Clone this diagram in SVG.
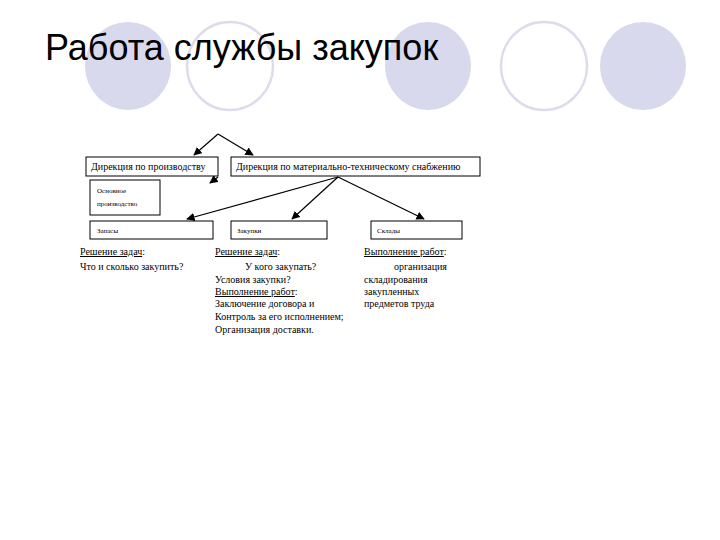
<svg xmlns="http://www.w3.org/2000/svg" width="720" height="540" viewBox="0 0 720 540">
<defs>
<style>
.f{fill:#d9d9ee}
.o{fill:none;stroke:#dcdcea;stroke-width:2.5}
.b{fill:#fff;stroke:#000;stroke-width:1}
.t{font-family:"Liberation Serif",serif;font-size:10px;fill:#000}
.s{font-family:"Liberation Serif",serif;font-size:7px;fill:#000}
.l{stroke:#000;stroke-width:1.2;fill:none;marker-end:url(#a)}
</style>
<marker id="a" viewBox="0 0 10 10" refX="9" refY="5" markerWidth="7" markerHeight="7" orient="auto"><path d="M0,0L10,5L0,10z" fill="#000"/></marker>
</defs>
<rect width="720" height="540" fill="#fff"/>
<ellipse class="f" cx="128" cy="66" rx="43" ry="44"/>
<ellipse class="o" cx="230" cy="66" rx="43" ry="44"/>
<ellipse class="f" cx="428" cy="66" rx="43" ry="44"/>
<ellipse class="o" cx="544" cy="66" rx="43" ry="44"/>
<ellipse class="f" cx="643" cy="66" rx="43" ry="44"/>
<text x="45" y="60" font-family="Liberation Sans,Arial,sans-serif" font-size="36">Работа службы закупок</text>
<g id="connectors">
<line class="l" x1="218" y1="134" x2="194" y2="155"/>
<line class="l" x1="218" y1="134" x2="253" y2="155"/>
<line class="l" x1="218" y1="177" x2="210" y2="183"/>
<line class="l" x1="338" y1="177" x2="187" y2="219"/>
<line class="l" x1="338" y1="177" x2="292" y2="219"/>
<line class="l" x1="338" y1="177" x2="424" y2="219"/>
</g>
<g id="n1"><rect class="b" x="86" y="157" width="132" height="19"/><text class="t" x="91" y="170">Дирекция по производству</text></g>
<g id="n2"><rect class="b" x="231" y="157" width="249" height="19"/><text class="t" x="236" y="170">Дирекция по материально-техническому снабжению</text></g>
<g id="n3"><rect class="b" x="90" y="180" width="70" height="35"/><text class="s" x="97" y="193">Основное</text><text class="s" x="97" y="206">производство</text></g>
<g id="n4"><rect class="b" x="90" y="221" width="123" height="18"/><text class="s" x="97" y="233">Запасы</text></g>
<g id="n5"><rect class="b" x="231" y="221" width="96" height="18"/><text class="s" x="237" y="233">Закупки</text></g>
<g id="n6"><rect class="b" x="371" y="221" width="91" height="18"/><text class="s" x="377" y="233">Склады</text></g>
<g class="t">
<text class="t" x="80" y="255"><tspan text-decoration="underline">Решение задач</tspan>:</text>
<text class="t" x="80" y="270">Что и сколько закупить?</text>
<text class="t" x="215" y="255"><tspan text-decoration="underline">Решение задач</tspan>:</text>
<text class="t" x="245" y="270">У кого закупать?</text>
<text class="t" x="215" y="283">Условия закупки?</text>
<text class="t" x="215" y="295"><tspan text-decoration="underline">Выполнение работ</tspan>:</text>
<text class="t" x="215" y="307">Заключение договора и</text>
<text class="t" x="215" y="320">Контроль за его исполнением;</text>
<text class="t" x="215" y="333">Организация доставки.</text>
<text class="t" x="364" y="255"><tspan text-decoration="underline">Выполнение работ</tspan>:</text>
<text class="t" x="394" y="270">организация</text>
<text class="t" x="364" y="283">складирования</text>
<text class="t" x="364" y="295">закупленных</text>
<text class="t" x="364" y="307">предметов труда</text>
</g>
</svg>
